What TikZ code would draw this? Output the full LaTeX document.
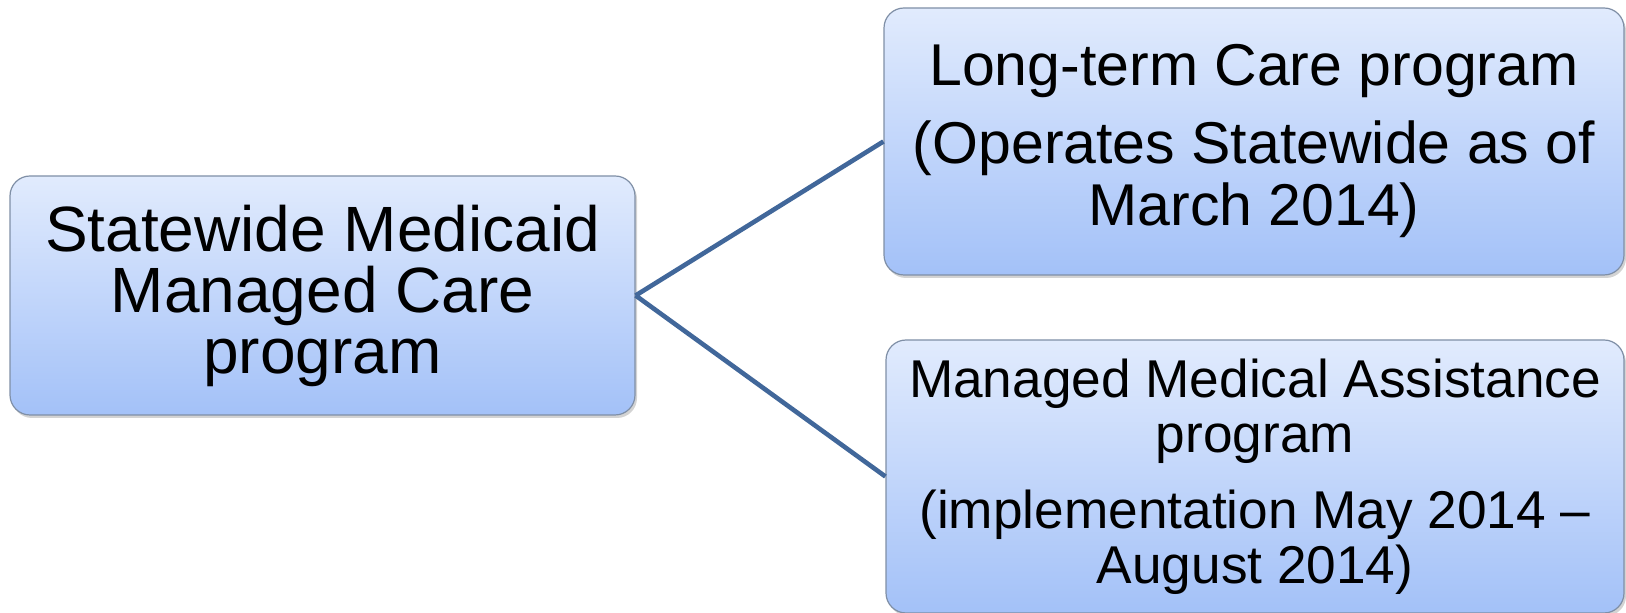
\documentclass[tikz,border=0pt]{standalone}
\usepackage{fontspec}
\setmainfont{Liberation Sans}
\usetikzlibrary{shadows}
\definecolor{boxtop}{HTML}{E1EBFD}
\definecolor{boxbottom}{HTML}{A3C1F8}
\definecolor{boxline}{HTML}{7F8FA6}
\definecolor{linkblue}{HTML}{41679A}
\begin{document}
\begin{tikzpicture}[x=0.5pt,y=-0.5pt,
	prog/.style={draw=boxline, line width=0.6pt, rounded corners=10pt, top color=boxtop, bottom color=boxbottom, align=center, inner sep=0pt, drop shadow={shadow xshift=1pt, shadow yshift=-1.5pt, opacity=0.35}},
	link/.style={draw=linkblue, line width=2.3pt}]
			\useasboundingbox (0,0) rectangle (1626,613);
			\node	(smmc) at (322.5,295.5) [prog, minimum width=312.5pt, minimum height=119.5pt, font=\fontsize{32}{30.5}\selectfont] {Statewide Medicaid\\Managed Care\\program};
			\node	(ltc) at (1254,141.5) [prog, minimum width=370pt, minimum height=133.5pt, font=\fontsize{29.5}{31}\selectfont] {Long-term Care program\\[8pt](Operates Statewide as of\\March 2014)};
			\node	(mma) at (1255,476.5) [prog, minimum width=369pt, minimum height=136.5pt, font=\fontsize{26.6}{27.5}\selectfont] {Managed Medical Assistance\\program\\[10.5pt](implementation May 2014 –\\August 2014)};
			\draw[link] 
			(smmc.east) -- (ltc.west)
			(smmc.east) -- (mma.west)
			;
		\end{tikzpicture}
\end{document}
